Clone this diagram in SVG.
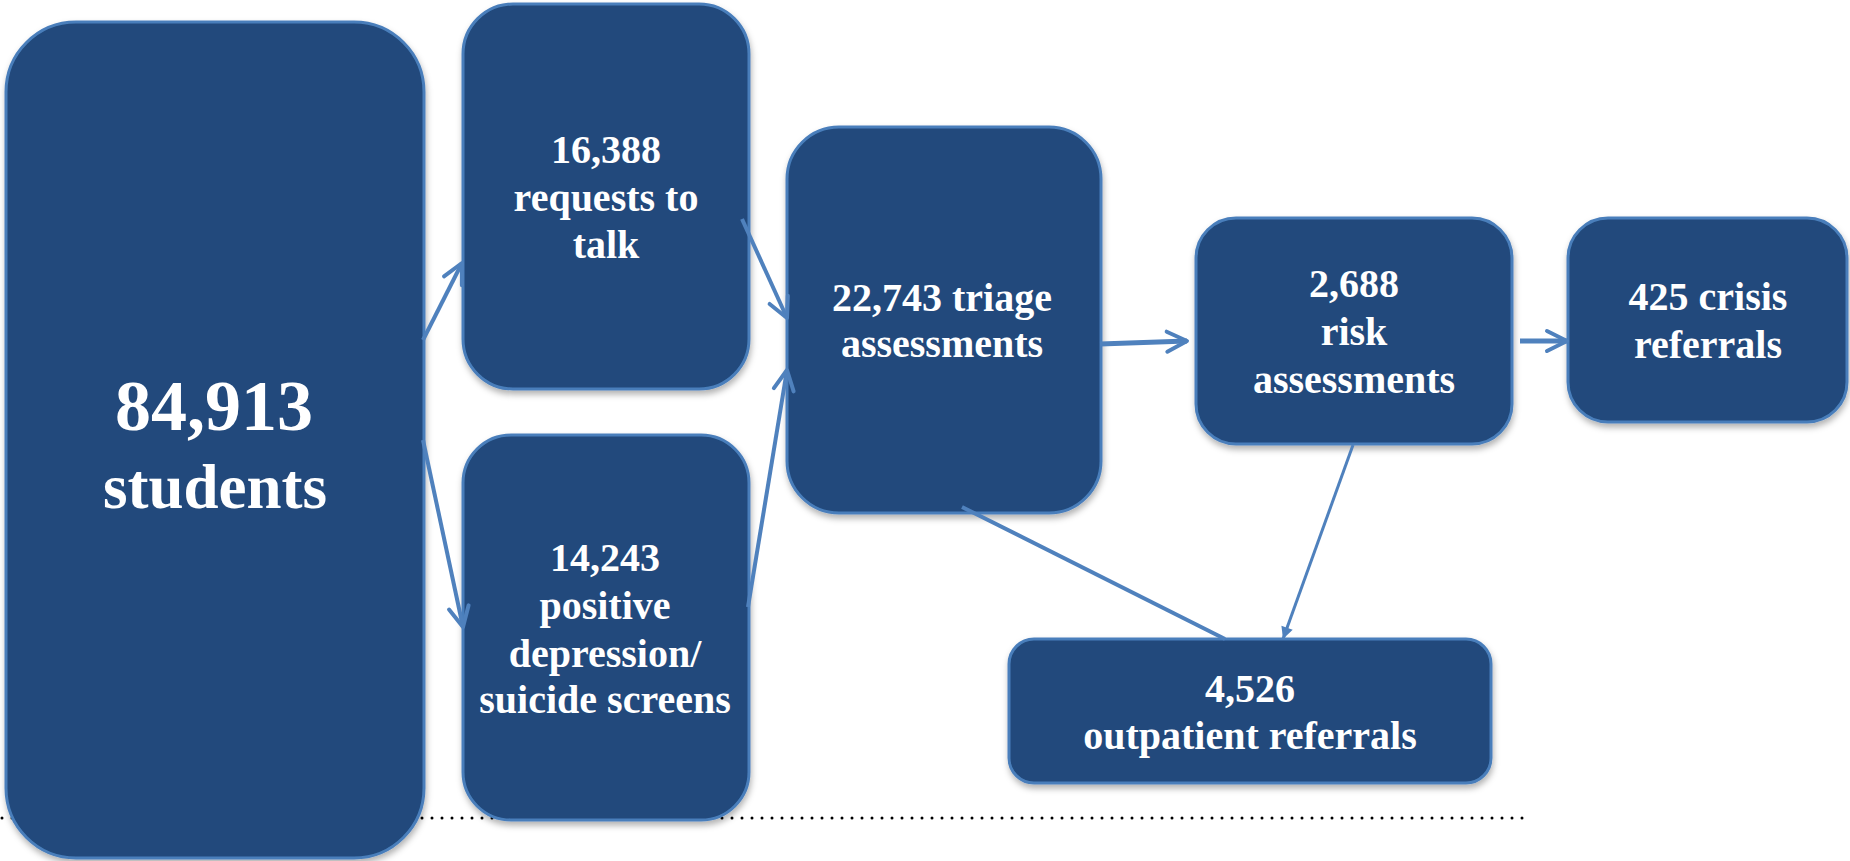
<svg xmlns="http://www.w3.org/2000/svg" width="1850" height="861" viewBox="0 0 1850 861">
  <style>
    .box { fill: #204A7C; stroke: #4A7EBB; stroke-width: 3; filter: url(#sh); }
    .t { font-family: "Liberation Serif", "Times New Roman", serif; font-weight: bold; fill: #FFFFFF; text-anchor: middle; font-size: 40px; }
    .conn { fill: none; stroke: #4F81BD; stroke-width: 4; }
    .dots { fill: none; stroke: #000; stroke-width: 3; stroke-linecap: round; stroke-dasharray: 0 10; }
  </style>
  <defs>
    <filter id="sh" x="-10%" y="-10%" width="125%" height="125%">
      <feDropShadow dx="1" dy="4" stdDeviation="3" flood-color="#000" flood-opacity="0.3"/>
    </filter>
    <marker id="open" markerUnits="userSpaceOnUse" viewBox="-26 -14 30 28" refX="0" refY="0" markerWidth="30" markerHeight="28" orient="auto" overflow="visible">
      <path d="M-20,-10 L0,0 L-20,10" fill="none" stroke="#4F81BD" stroke-width="4" stroke-linejoin="round" stroke-linecap="round"/>
    </marker>
    <marker id="solid" markerUnits="userSpaceOnUse" viewBox="-14 -8 16 16" refX="0" refY="0" markerWidth="16" markerHeight="16" orient="auto" overflow="visible">
      <path d="M-12,-6 L0,0 L-12,6 Z" fill="#4F81BD"/>
    </marker>
  </defs>

  <rect width="1850" height="861" fill="#FFFFFF"/>
  <line class="dots" x1="2" y1="818" x2="1524" y2="818"/>

  <g id="node-students">
    <rect class="box" x="6" y="22" width="418" height="836" rx="70" ry="70"/>
    <text class="t" x="214" y="430" style="font-size:72px">84,913</text>
    <text class="t" x="215" y="508" style="font-size:63px">students</text>
  </g>
  <g id="node-requests">
    <rect class="box" x="463" y="4" width="286" height="385" rx="50" ry="50"/>
    <text class="t" x="606" y="163">16,388</text>
    <text class="t" x="606" y="211">requests to</text>
    <text class="t" x="606" y="258">talk</text>
  </g>
  <g id="node-screens">
    <rect class="box" x="463" y="435" width="286" height="385" rx="48" ry="48"/>
    <text class="t" x="605" y="571">14,243</text>
    <text class="t" x="605" y="619">positive</text>
    <text class="t" x="605" y="667">depression/</text>
    <text class="t" x="605" y="713">suicide screens</text>
  </g>
  <g id="node-triage">
    <rect class="box" x="787" y="127" width="314" height="386" rx="52" ry="52"/>
    <text class="t" x="942" y="311">22,743 triage</text>
    <text class="t" x="942" y="357">assessments</text>
  </g>
  <g id="node-risk">
    <rect class="box" x="1196" y="218" width="316" height="226" rx="40" ry="40"/>
    <text class="t" x="1354" y="297">2,688</text>
    <text class="t" x="1354" y="345">risk</text>
    <text class="t" x="1354" y="393">assessments</text>
  </g>
  <g id="node-crisis">
    <rect class="box" x="1568" y="218" width="279" height="204" rx="40" ry="40"/>
    <text class="t" x="1708" y="310">425 crisis</text>
    <text class="t" x="1708" y="358">referrals</text>
  </g>
  <g id="node-outpatient">
    <rect class="box" x="1009" y="639" width="482" height="144" rx="25" ry="25"/>
    <text class="t" x="1250" y="702">4,526</text>
    <text class="t" x="1250" y="749">outpatient referrals</text>
  </g>

  <g id="connectors">
    <path class="conn" d="M423,340 L462,263" marker-end="url(#open)"/>
    <path class="conn" d="M423,440 L463,627" marker-end="url(#open)"/>
    <path class="conn" d="M742,219 L787,318" marker-end="url(#open)"/>
    <path class="conn" d="M748,607 L787,370" marker-end="url(#open)"/>
    <path class="conn" d="M1100,344 L1187,341" style="stroke-width:5" marker-end="url(#open)"/>
    <path class="conn" d="M1520,341 L1567,341" style="stroke-width:5" marker-end="url(#open)"/>
    <path class="conn" d="M962,507 L1225,639"/>
    <path class="conn" d="M1353,445 L1283,639" style="stroke-width:3" marker-end="url(#solid)"/>
  </g>
</svg>
